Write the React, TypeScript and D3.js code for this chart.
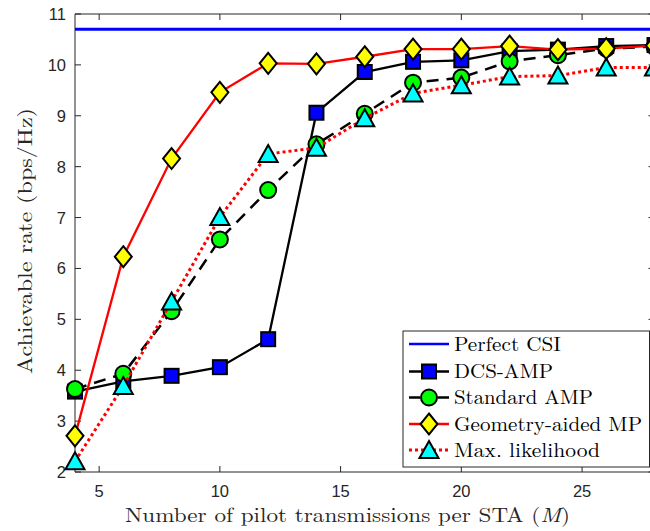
import React from "react";
import * as d3 from "d3";

const pilotM = [4, 6, 8, 10, 12, 14, 16, 18, 20, 22, 24, 26, 28];
const perfectCSI = 10.7;
const dcsAmp = [3.58, 3.78, 3.89, 4.06, 4.61, 9.06, 9.86, 10.06, 10.09, 10.27, 10.3, 10.37, 10.39];
const standardAmp = [3.63, 3.93, 5.16, 6.57, 7.54, 8.44, 9.04, 9.65, 9.75, 10.07, 10.19, 10.32, 10.36];
const geometryMp = [2.71, 6.23, 8.16, 9.46, 10.03, 10.02, 10.16, 10.31, 10.31, 10.37, 10.3, 10.32, 10.38];
const maxLikelihood = [2.21, 3.69, 5.35, 7.01, 8.25, 8.37, 8.95, 9.44, 9.6, 9.77, 9.79, 9.95, 9.95];
const xTicks = [5, 10, 15, 20, 25];
const yTicks = [2, 3, 4, 5, 6, 7, 8, 9, 10, 11];
const legendLabels = ["Perfect CSI", "DCS-AMP", "Standard AMP", "Geometry-aided MP", "Max. likelihood"];

const W = 650;
const H = 531;
const L = 75, R = 654.5, T = 14, B = 472;
const AX = "#262626";
const SERIF = '"Latin Modern Roman", "Liberation Serif", serif';
const SANS = '"Liberation Sans", Arial, sans-serif';

type MarkerKind = "square" | "circle" | "diamond" | "triangle";

function Marker({ kind, x, y, fill }: { kind: MarkerKind; x: number; y: number; fill: string }) {
  const sw = 2;
  if (kind === "square") return <rect x={x - 7} y={y - 7} width={14} height={14} fill={fill} stroke="#000" strokeWidth={sw} />;
  if (kind === "circle") return <circle cx={x} cy={y} r={8} fill={fill} stroke="#000" strokeWidth={sw} />;
  if (kind === "diamond")
    return <path d={`M${x},${y - 10.5}L${x + 8.5},${y}L${x},${y + 10.5}L${x - 8.5},${y}Z`} fill={fill} stroke="#000" strokeWidth={sw} strokeLinejoin="miter" />;
  return <path d={`M${x},${y - 9}L${x + 9.5},${y + 8}L${x - 9.5},${y + 8}Z`} fill={fill} stroke="#000" strokeWidth={sw} strokeLinejoin="miter" />;
}

export default function App() {
  const x = d3.scaleLinear().domain([4, 28]).range([L, R]);
  const y = d3.scaleLinear().domain([2, 11]).range([B, T]);
  const line = d3.line<number>().x((_, i) => x(pilotM[i])).y((v) => y(v));

  const series = [
    { data: dcsAmp, color: "#000", dash: undefined as string | undefined, width: 2.3, marker: "square" as MarkerKind, fill: "#0000ff" },
    { data: standardAmp, color: "#000", dash: "12,8", width: 2.5, marker: "circle" as MarkerKind, fill: "#00ff00" },
    { data: geometryMp, color: "#ff0000", dash: undefined, width: 2.3, marker: "diamond" as MarkerKind, fill: "#ffff00" },
    { data: maxLikelihood, color: "#ff0000", dash: "3,3", width: 3, marker: "triangle" as MarkerKind, fill: "#00ffff" },
  ];

  const legendX = 403, legendY = 331, legendW = 246.5, legendH = 136;
  const rowY = [344, 371.5, 397.5, 424, 450];
  const textLens = [107, 99, 139, 188, 146];

  return (
    <div style={{ position: "absolute", left: 0, top: 0 }}>
      <svg width={W} height={H} style={{ display: "block", background: "#fff" }}>
        <rect x={0} y={0} width={W} height={H} fill="#fff" />
        <defs>
          <clipPath id="plotclip">
            <rect x={L} y={T} width={R - L} height={B - T} />
          </clipPath>
        </defs>
        <g stroke={AX} strokeWidth={1} fill="none">
          <line x1={L} y1={T} x2={R} y2={T} />
          <line x1={L} y1={B} x2={R} y2={B} />
          <line x1={L} y1={T} x2={L} y2={B} />
          <line x1={R} y1={T} x2={R} y2={B} />
          {xTicks.map((t) => (
            <g key={"xt" + t}>
              <line x1={x(t)} y1={B} x2={x(t)} y2={B - 6} />
              <line x1={x(t)} y1={T} x2={x(t)} y2={T + 6} />
            </g>
          ))}
          {yTicks.map((t) => (
            <g key={"yt" + t}>
              <line x1={L} y1={y(t)} x2={L + 6} y2={y(t)} />
              <line x1={R} y1={y(t)} x2={R - 6} y2={y(t)} />
            </g>
          ))}
        </g>
        {xTicks.map((t) => (
          <text key={"xl" + t} x={x(t)} y={497} textAnchor="middle" style={{ fontFamily: SANS, fontSize: 16.5 }} fill={AX}>
            {t}
          </text>
        ))}
        {yTicks.map((t) => (
          <text key={"yl" + t} x={66} y={y(t) + 6} textAnchor="end" style={{ fontFamily: SANS, fontSize: 16.5 }} fill={AX}>
            {t}
          </text>
        ))}
        <g clipPath="url(#plotclip)">
          <line x1={x(4)} x2={x(28)} y1={y(perfectCSI)} y2={y(perfectCSI)} stroke="#0000ff" strokeWidth={3} />
        </g>
        {series.map((s, si) => (
          <g key={"s" + si}>
            <path d={line(s.data) || ""} fill="none" stroke={s.color} strokeWidth={s.width} strokeDasharray={s.dash} />
            {s.data.map((v, i) => (
              <Marker key={i} kind={s.marker} x={x(pilotM[i])} y={y(v)} fill={s.fill} />
            ))}
          </g>
        ))}
        <rect x={legendX} y={legendY} width={legendW} height={legendH} fill="#fff" stroke={AX} strokeWidth={1} />
        <line x1={409} x2={449} y1={rowY[0]} y2={rowY[0]} stroke="#0000ff" strokeWidth={2.3} />
        {series.map((s, si) => (
          <g key={"lg" + si}>
            <line
              x1={409}
              x2={449}
              y1={rowY[si + 1]}
              y2={rowY[si + 1]}
              stroke={s.color}
              strokeWidth={s.width}
              strokeDasharray={s.dash ? (s.dash === "3,3" ? "3,3" : "11,18") : undefined}
            />
            <Marker kind={s.marker} x={429} y={rowY[si + 1]} fill={s.fill} />
          </g>
        ))}
        {legendLabels.map((lab, i) => (
          <text
            key={"lt" + i}
            x={454}
            y={rowY[i] + 6.5}
            style={{ fontFamily: SERIF, fontSize: 19.5 }}
            fill="#000"
            textLength={textLens[i]}
            lengthAdjust="spacingAndGlyphs"
          >
            {lab}
          </text>
        ))}
        <text x={125} y={522} style={{ fontFamily: SERIF, fontSize: 20.5 }} fill="#262626" textLength={445} lengthAdjust="spacingAndGlyphs">
          Number of pilot transmissions per STA (<tspan style={{ fontStyle: "italic" }}>M</tspan>)
        </text>
        <text
          transform={`translate(31.5,${(T + B) / 2 - 2}) rotate(-90)`}
          textAnchor="middle"
          style={{ fontFamily: SERIF, fontSize: 20.5 }}
          fill="#262626"
          textLength={266}
          lengthAdjust="spacingAndGlyphs"
        >
          Achievable rate (bps/Hz)
        </text>
      </svg>
    </div>
  );
}
